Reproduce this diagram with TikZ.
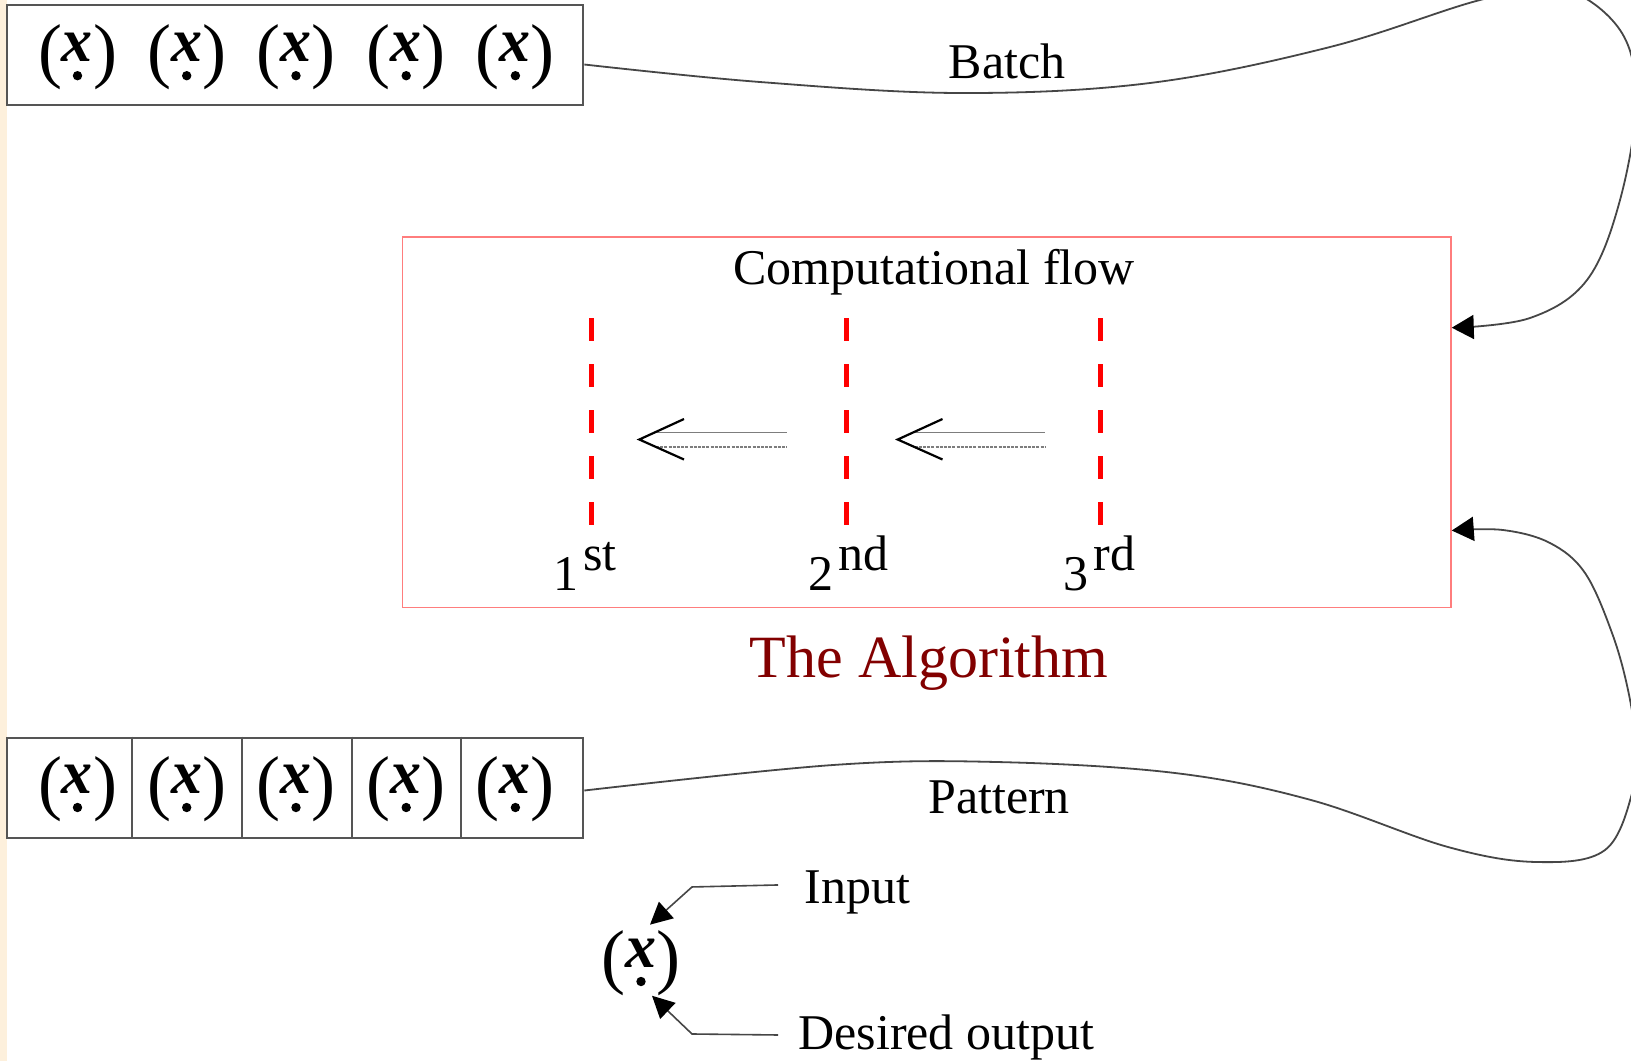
\documentclass[tikz,border=0pt]{standalone}
\usepackage{fontspec}
\setmainfont{Liberation Serif}
\usetikzlibrary{arrows.meta,calc}
\definecolor{stripbg}{RGB}{253,240,220}
\definecolor{boxline}{RGB}{85,85,85}
\definecolor{algline}{RGB}{255,125,125}
\definecolor{dashcol}{RGB}{255,0,0}
\definecolor{titlecol}{RGB}{130,0,0}
\definecolor{connline}{RGB}{70,70,70}
\definecolor{shaftcol}{RGB}{125,125,125}
\newcommand{\xpat}{{\fontsize{36pt}{40pt}\selectfont(\raisebox{6.5pt}{\fontsize{31pt}{34pt}\selectfont\bfseries\itshape x})}}
\begin{document}
\begin{tikzpicture}[x=0.5pt,y=-0.5pt,
  txt/.style={inner sep=0pt, font=\fontsize{25pt}{30pt}\selectfont},
  xsym/.style={inner sep=0pt, anchor=base},
  conn/.style={draw=connline, line width=0.9pt, -{Triangle[length=11pt,width=12pt,color=black,fill=black]}},
  legconn/.style={draw=connline, line width=0.8pt, -{Triangle[length=11pt,width=11pt,color=black,fill=black]}},
  shaft/.style={shaftcol, line width=0.8pt},
  shaftb/.style={shaftcol, line width=0.8pt, dash pattern=on 1.5pt off 0.6pt},
  headln/.style={black, line width=1.1pt},
  redsep/.style={dashcol, line width=2.5pt, dash pattern=on 11.5pt off 11.5pt}]
\useasboundingbox (0,0) rectangle (1631,1061);
\clip (0,0) rectangle (1631,1061);
\fill[white] (0,0) rectangle (1631,1061);
\fill[stripbg] (0,0) rectangle (7,1061);

% Batch box
\node[draw=boxline, line width=1pt, minimum width=288pt, minimum height=49.9pt, inner sep=0pt] (batchbox) at (295.3,55.1) {};
\node[xsym] (bx1) at (77.5,74.2) {\xpat};
\node[xsym] (bx2) at (186.7,74.2) {\xpat};
\node[xsym] (bx3) at (296,74.2) {\xpat};
\node[xsym] (bx4) at (406.2,74.2) {\xpat};
\node[xsym] (bx5) at (515.4,74.2) {\xpat};

% Pattern box
\node[draw=boxline, line width=1pt, minimum width=288pt, minimum height=50.45pt, inner sep=0pt] (patbox) at (295.3,788) {};
\foreach \dx in {132,242.4,351.6,460.8}
  \draw[boxline, line width=1pt] (patbox.north -| \dx,0) -- (patbox.south -| \dx,0);
\node[xsym] (px1) at (77.5,806) {\xpat};
\node[xsym] (px2) at (186.7,806) {\xpat};
\node[xsym] (px3) at (296,806) {\xpat};
\node[xsym] (px4) at (406.2,806) {\xpat};
\node[xsym] (px5) at (515.4,806) {\xpat};

% Algorithm box
\node[draw=algline, line width=0.75pt, minimum width=524.2pt, minimum height=185.15pt, inner sep=0pt] (algbox) at (926.8,422.35) {};
\node[txt, anchor=base] (flowlbl) at (934,284) {Computational flow};
\draw[redsep] (591,318) -- (591,530);
\draw[redsep] (846,318) -- (846,530);
\draw[redsep] (1100,318) -- (1100,530);
\node[txt, anchor=base west] (ord1) at (553,590) {1\hspace{2.5pt}\raisebox{9.7pt}{st}};
\node[txt, anchor=base west] (ord2) at (808,590) {2\hspace{2.5pt}\raisebox{9.7pt}{nd}};
\node[txt, anchor=base west] (ord3) at (1063,590) {3\hspace{2.5pt}\raisebox{9.7pt}{rd}};
% flow arrows
\draw[shaft] (656,432.3) -- (787,432.3);
\draw[shaftb] (656,446.7) -- (787,446.7);
\draw[headln] (684,419) -- (639.3,439.5) -- (684,459.5);
\draw[shaft] (914.5,432.3) -- (1045,432.3);
\draw[shaftb] (914.5,446.7) -- (1045,446.7);
\draw[headln] (942.5,419) -- (897.7,439.5) -- (942.5,459.5);

\node[txt, anchor=base, text=titlecol, font=\fontsize{30pt}{34pt}\selectfont] (algtitle) at (929,677) {The Algorithm};

% labels
\node[txt, anchor=base] (batchlbl) at (1007,78) {Batch};
\node[txt, anchor=base] (patlbl) at (999,813) {Pattern};

% connectors
\coordinate (bstart) at (batchbox.east |- 0,64.5);
\coordinate (bfin) at (algbox.east |- 0,327.7);
\draw[conn] plot[smooth, tension=0.6] coordinates {(bstart) (760,82) (960,93) (1150,83) (1330,47) (1480,0) (1560,-12) (1620,30) (1636,100) (1620,200) (1587,280) (1530,318) (bfin)};
\coordinate (pstart) at (patbox.east |- 0,790.5);
\coordinate (pfin) at (algbox.east |- 0,530.5);
\draw[conn] plot[smooth, tension=0.6] coordinates {(pstart) (833,765) (997,762) (1175,773) (1311,800) (1448,847) (1537,862) (1605,850) (1633,790) (1636,745) (1628,690) (1612,633) (1585,573) (1550,543) (1503,530) (pfin)};

% legend
\node[xsym] (legx) at (641,980) {\xpat};
\node[txt, anchor=base west] (inlbl) at (804,903) {Input};
\node[txt, anchor=base west] (outlbl) at (798,1049) {Desired output};
\draw[legconn] ($(inlbl.west)+(-26,-7)$) -- ++(-86,2) -- ($(legx.north)+(9,-5)$);
\draw[legconn] ($(outlbl.west)+(-20,-2)$) -- ++(-86,-1) -- ($(legx.south)+(11,0)$);

% dots under the x symbols
\foreach \n in {bx1,bx2,bx3,bx4,bx5,px1,px2,px3,px4,px5,legx}
  \fill ($(\n.base)+(0,1.5)$) circle (4.7);
\end{tikzpicture}
\end{document}
